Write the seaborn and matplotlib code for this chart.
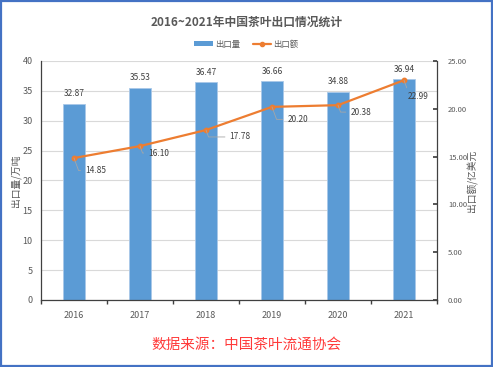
import matplotlib
matplotlib.use("Agg")
import matplotlib.pyplot as plt
import seaborn as sns
import numpy as np
import pandas as pd
from matplotlib.patches import Rectangle, Patch
from matplotlib.lines import Line2D

years = ["2016", "2017", "2018", "2019", "2020", "2021"]
volume = [32.87, 35.53, 36.47, 36.66, 34.88, 36.94]
amount = [14.85, 16.10, 17.78, 20.20, 20.38, 22.99]
left_ticks = [0, 5, 10, 15, 20, 25, 30, 35, 40]
right_ticks = [0, 5, 10, 15, 20, 25]

sns.set_theme(style="white")
plt.rcParams["font.family"] = ["Noto Sans CJK SC", "DejaVu Sans"]

df = pd.DataFrame({"year": years, "volume": volume, "amount": amount})

fig = plt.figure(figsize=(4.93, 3.67), dpi=100)
ax = fig.add_axes([0.0832, 0.1826, 0.8032, 0.6512])
grey = "#595959"

sns.barplot(data=df, x="year", y="volume", ax=ax, color="#5B9BD5",
            width=0.32, saturation=1, edgecolor="#A9C8E8", linewidth=0.6)
ax.set_xlim(-0.5, 5.5)
ax.set_ylim(0, 40)
ax.set_yticks(left_ticks)
ax.set_yticklabels([str(t) for t in left_ticks], fontsize=6.5, color=grey)
ax.yaxis.grid(True, color="#D9D9D9", linewidth=0.8)
ax.set_axisbelow(True)
ax.set_xlabel("")
ax.set_ylabel("出口量/万吨", fontsize=7, color=grey, labelpad=1)
ax.tick_params(axis="x", length=0, labelsize=6.5, labelcolor=grey, pad=8)
ax.tick_params(axis="y", length=0, pad=6)
ax.set_xticks(np.arange(-0.5, 6, 1), minor=True)
ax.tick_params(axis="x", which="minor", length=3, color="#404040", direction="out", bottom=True)
for s in ["top", "right"]:
    ax.spines[s].set_visible(False)
for s in ["left", "bottom"]:
    ax.spines[s].set_color("#404040")
    ax.spines[s].set_linewidth(0.9)

for i, v in enumerate(volume):
    ax.text(i, v + 0.9, f"{v:.2f}", ha="center", va="bottom", fontsize=6, color="#404040")

ax2 = ax.twinx()
sns.pointplot(data=df, x="year", y="amount", ax=ax2, color="#ED7D31",
              markers="o", markersize=3, linewidth=1.6)
ax2.set_xlim(-0.5, 5.5)
ax2.set_ylim(0, 25)
ax2.set_yticks(right_ticks)
ax2.set_yticklabels([f"{t:.2f}" for t in right_ticks], fontsize=5.5, color=grey)
ax2.set_ylabel("出口额/亿美元", fontsize=7, color=grey, rotation=90, labelpad=0)
ax2.tick_params(axis="y", length=3, direction="in", color="#404040", pad=8)
ax2.set_xlabel("")
for s in ["top", "left", "bottom"]:
    ax2.spines[s].set_visible(False)
ax2.spines["right"].set_color("#404040")
ax2.spines["right"].set_linewidth(0.9)

offsets = [(8, -9), (6, -5), (17, -5), (11, -9), (9, -5), (3, -12)]
for i, (v, off) in enumerate(zip(amount, offsets)):
    ax2.annotate(f"{v:.2f}", xy=(i, v), xytext=off, textcoords="offset points",
                 fontsize=6, color="#404040", ha="left", va="center",
                 arrowprops=dict(arrowstyle="-", color="#A6A6A6", lw=0.6, relpos=(0, 0.5),
                                 shrinkA=1, shrinkB=0,
                                 connectionstyle="angle,angleA=0,angleB=-70,rad=0"))

fig.text(0.5, 1 - 22 / 367, "2016~2021年中国茶叶出口情况统计", ha="center", va="center",
         fontsize=8.5, fontweight="bold", color=grey)

handles = [Patch(facecolor="#5B9BD5", edgecolor="none"),
           Line2D([0], [0], color="#ED7D31", lw=1.6, marker="o", markersize=3)]
fig.legend(handles, ["出口量", "出口额"], loc="center", bbox_to_anchor=(0.5, 1 - 44 / 367),
           ncol=2, frameon=False, fontsize=6, labelcolor=grey, handlelength=2.2,
           handleheight=0.5, columnspacing=1.5, handletextpad=0.3)

fig.text(0.5, 1 - 345 / 367, "数据来源：中国茶叶流通协会", ha="center", va="center",
         fontsize=10.5, color="#FF3B3B")

fig.patches.append(Rectangle((0.002, 0.003), 0.996, 0.994, transform=fig.transFigure,
                             fill=False, edgecolor="#4472C4", linewidth=1.6))

fig.savefig("out.png", dpi=100)
